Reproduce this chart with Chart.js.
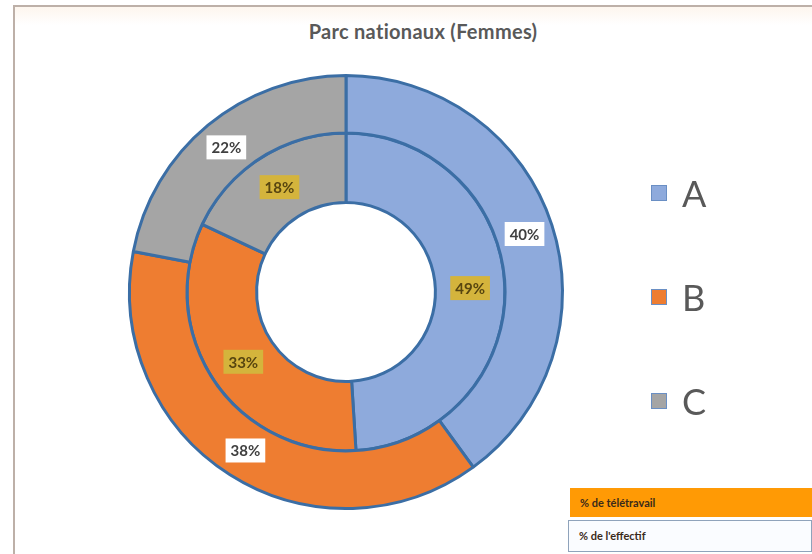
<!DOCTYPE html>
<html lang="fr">
<head>
  <meta charset="UTF-8">
  <title>Parc nationaux (Femmes)</title>
  <script src="https://cdn.jsdelivr.net/npm/chart.js"></script>
  <style>
    html, body { margin: 0; padding: 0; background: #fff; }
    #wrap { position: relative; width: 812px; height: 554px; overflow: hidden; font-family: Lato, "Open Sans", sans-serif; }
    #frame { position: absolute; left: 13px; top: 5px; right: 0; bottom: 0;
             border-top: 2px solid #bdb0a8; border-left: 2px solid #bdb0a8;
             background: linear-gradient(#fdf6ee, #fff 18px); }
    #title { position: absolute; left: 0; width: 846px; top: 19px; text-align: center;
             font-weight: bold; font-size: 20px; letter-spacing: 0.3px; color: #595959; }
    canvas { position: absolute; left: 0; top: 0; }
    .cell { position: absolute; left: 570px; right: 0; height: 29px; line-height: 29px;
            font-size: 11px; font-weight: bold; color: #3a2a1a; padding-left: 10px; box-sizing: border-box; }
    #tele { top: 488px; background: #ff9a05; }
    #eff { top: 520px; left: 568px; height: 32px; line-height: 30px; background: #fafcff; border: 1px solid #8fa3bb; }
  </style>
</head>
<body>
<div id="wrap">
  <div id="frame"></div>
  <div id="title">Parc nationaux (Femmes)</div>
  <canvas id="myChart" width="812" height="554"></canvas>
  <div class="cell" id="tele">% de télétravail</div>
  <div class="cell" id="eff">% de l'effectif</div>
</div>

<script>
  const categories = ["A", "B", "C"];
  const effectif = [40, 38, 22];      // anneau extérieur
  const teletravail = [49, 33, 18];   // anneau intérieur
  const colors = ["#8eaadc", "#ee7d31", "#a5a5a5"];

  // étiquettes encadrées au milieu de chaque segment
  const labelBoxes = {
    id: "labelBoxes",
    afterDatasetsDraw(chart) {
      const ctx = chart.ctx;
      ctx.save();
      ctx.font = "bold 15px Lato, 'Open Sans', sans-serif";
      ctx.textAlign = "center";
      ctx.textBaseline = "middle";
      chart.data.datasets.forEach((ds, i) => {
        chart.getDatasetMeta(i).data.forEach((arc, j) => {
          const p = arc.tooltipPosition();
          const txt = ds.data[j] + "%";
          const w = ctx.measureText(txt).width + 10;
          ctx.fillStyle = ds.boxColor;
          ctx.fillRect(p.x - w / 2, p.y - 12, w, 24);
          ctx.fillStyle = ds.textColor;
          ctx.fillText(txt, p.x, p.y + 1);
        });
      });
      ctx.restore();
    }
  };

  // légende à droite, grandes lettres
  const bigLegend = {
    id: "bigLegend",
    afterDraw(chart) {
      const ctx = chart.ctx;
      ctx.save();
      ctx.font = "36px Lato, 'Open Sans', sans-serif";
      ctx.textBaseline = "middle";
      chart.data.labels.forEach((lab, i) => {
        const y = 193 + i * 104;
        ctx.fillStyle = colors[i];
        ctx.fillRect(651, y - 8, 16, 16);
        ctx.strokeStyle = "#6a8fc4";
        ctx.lineWidth = 1;
        ctx.strokeRect(651.5, y - 7.5, 15, 15);
        ctx.fillStyle = "#595959";
        ctx.fillText(lab, 682, y + 2);
      });
      ctx.restore();
    }
  };

  new Chart(document.getElementById("myChart").getContext("2d"), {
    type: "doughnut",
    data: {
      labels: categories,
      datasets: [
        { label: "% de l'effectif", data: effectif, backgroundColor: colors,
          borderColor: "#3b6ea5", borderWidth: 3, weight: 58,
          boxColor: "#ffffff", textColor: "#404040" },
        { label: "% de télétravail", data: teletravail, backgroundColor: colors,
          borderColor: "#3b6ea5", borderWidth: 3, weight: 70,
          boxColor: "#d4b43c", textColor: "#574510" }
      ]
    },
    options: {
      responsive: false,
      animation: false,
      cutout: "41.3%",
      layout: { padding: { left: 128, right: 248, top: 74, bottom: 44 } },
      plugins: {
        legend: { display: false },
        title: { display: false },
        tooltip: { enabled: false }
      }
    },
    plugins: [labelBoxes, bigLegend]
  });
</script>
</body>
</html>
